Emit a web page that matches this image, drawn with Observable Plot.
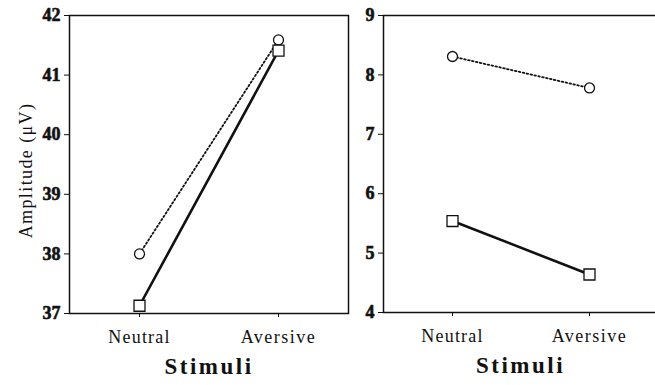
<!DOCTYPE html>
<html><head><meta charset="utf-8">
<script src="https://cdn.jsdelivr.net/npm/d3@7"></script>
<script src="https://cdn.jsdelivr.net/npm/@observablehq/plot@0.6"></script>
<style>
body{margin:0;background:#fff;overflow:hidden}
#wrap{position:relative;width:655px;height:385px;overflow:hidden;background:#fff}
#wrap svg{position:absolute;top:0;background:none;overflow:visible}
</style></head><body><div id="wrap"></div>
<script>
const stimuli = ["Neutral", "Aversive"];
const leftCircle = [38.0, 41.59];
const leftSquare = [37.13, 41.41];
const rightCircle = [8.31, 7.78];
const rightSquare = [5.54, 4.64];
const leftTicks = [37, 38, 39, 40, 41, 42];
const rightTicks = [4, 5, 6, 7, 8, 9];
const xTitle = "Stimuli";
const yTitle = "Amplitude (\u03bcV)";

const serif = "Liberation Serif, Times New Roman, serif";

function panel({left, width, marginLeft, marginRight, marginBottom, ticks, circle, square, ylabel}) {
  const c = stimuli.map((s, i) => ({s, v: circle[i]}));
  const q = stimuli.map((s, i) => ({s, v: square[i]}));
  const marks = [
    Plot.frame({stroke: "#111", strokeWidth: 1.5}),
    Plot.line(c, {x: "s", y: "v", stroke: "#111", strokeWidth: 1.8, strokeDasharray: "1.6,2.4"}),
    Plot.line(q, {x: "s", y: "v", stroke: "#111", strokeWidth: 2.6}),
    Plot.dot(c, {x: "s", y: "v", symbol: "circle", r: 5, fill: "white", stroke: "#111", strokeWidth: 1.3}),
    Plot.dot(q, {x: "s", y: "v", symbol: "square", r: 6.2, fill: "white", stroke: "#111", strokeWidth: 1.3}),
    Plot.axisY({ticks, tickFormat: () => "", tickSize: 5, label: null, stroke: "#111"}),
    Plot.text(ticks, {y: (d) => d, text: (d) => String(d), frameAnchor: "left", textAnchor: "end", dx: -9, fontSize: 18, fontWeight: "bold", fontFamily: serif, fill: "#111", stroke: "#111", strokeWidth: 0.6}),
    Plot.axisX({tickSize: 4, tickPadding: 13, fontSize: 18, fontFamily: serif, label: null}),
    Plot.text([xTitle], {frameAnchor: "bottom", lineAnchor: "bottom", dy: 60, fontSize: 23, fontWeight: "bold", fontFamily: serif, fill: "#111"})
  ];
  if (ylabel) {
    marks.push(Plot.text([ylabel], {frameAnchor: "left", textAnchor: "middle", rotate: -90, lineAnchor: "bottom", dx: -38, dy: 6, fontSize: 18, fontFamily: serif, fill: "#111"}));
  }
  const svg = Plot.plot({
    width, height: 385,
    marginTop: 15, marginBottom, marginLeft, marginRight,
    style: {color: "#111", background: "transparent"},
    x: {type: "point", domain: stimuli, padding: 0.5},
    y: {domain: [ticks[0], ticks[ticks.length - 1]]},
    marks
  });
  svg.style.left = left + "px";
  const sp = {"Neutral": 1.2, "Aversive": 1.5, "Stimuli": 2.5};
  sp[yTitle] = 1.4;
  d3.select(svg).selectAll("text").each(function () {
    const t = this.textContent;
    if (sp[t] != null) d3.select(this).attr("letter-spacing", sp[t]);
  });
  document.getElementById("wrap").appendChild(svg);
}

panel({left: 0, width: 350, marginLeft: 69, marginRight: 2, marginBottom: 72, ticks: leftTicks, circle: leftCircle, square: leftSquare, ylabel: yTitle});
panel({left: 330, width: 327, marginLeft: 53, marginRight: 0, marginBottom: 73, ticks: rightTicks, circle: rightCircle, square: rightSquare, ylabel: null});
</script></body></html>
